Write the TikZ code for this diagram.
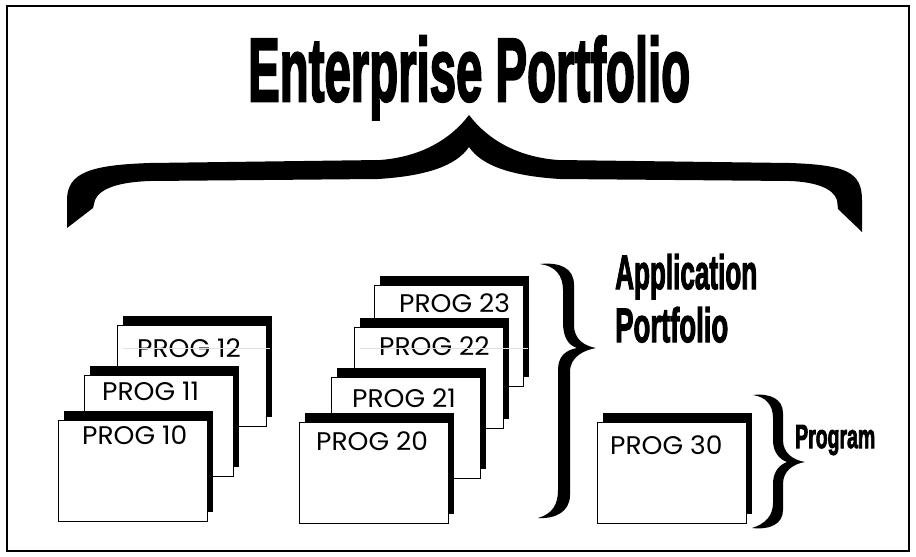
\documentclass[tikz,border=0pt]{standalone}
\usepackage{fontspec}
\setmainfont{Poppins}[FakeStretch=1.04]
\newfontfamily\hfont{Liberation Sans}[BoldFeatures={FakeBold=3}]
\usetikzlibrary{shadows}
\tikzset{
  card/.style={draw=black, fill=white, line width=0.8pt, anchor=north west,
    minimum width=149pt, minimum height=101pt, inner sep=0pt,
    general shadow={fill=black, shadow xshift=6pt, shadow yshift=9pt}},
  progtext/.style={anchor=base west, inner sep=0pt, font=\fontsize{25.5}{29}\selectfont},
  headtext/.style={anchor=base west, inner sep=0pt},
  guide/.style={draw=black!12, line width=0.5pt},
  bracefill/.style={fill=black}
}
\newcommand{\headbox}[3]{\resizebox{#1}{#2}{\hfont\bfseries #3}}
\begin{document}
\begin{tikzpicture}[x=1pt,y=-1pt]
\useasboundingbox (0,0) rectangle (916,557);
\draw[line width=2pt] (7,6) rectangle (909,551);

% title
\node[headtext] (title) at (248,101) {\headbox{442pt}{65pt}{Enterprise Portfolio}};

% big brace
\fill[bracefill] (67,228) -- (67,200)
  .. controls (67,172) and (92,165) .. (150,163)
  -- (380,160)
  .. controls (420,157) and (450,140) .. (469,115)
  .. controls (488,140) and (518,157) .. (558,160)
  -- (790,163)
  .. controls (846,165) and (862,172) .. (862,200)
  -- (862,232) -- (838,209) -- (837,200)
  .. controls (833,188) and (815,182) .. (790,181)
  -- (560,179)
  .. controls (512,176) and (482,166) .. (469,147)
  .. controls (456,166) and (426,176) .. (378,179)
  -- (150,181)
  .. controls (120,182) and (100,188) .. (95,200)
  -- (93,208) -- cycle;

% stack 1
\node[card] (c12) at (117,325) {};
\node[progtext] (t12) at (137,357) {PROG 12};
\draw[guide] (123,348) -- (270,348);
\node[card] (c11) at (84,375) {};
\node[progtext] (t11) at (102,400) {PROG 11};
\node[card] (c10) at (58,420) {};
\node[progtext] (t10) at (82,444) {PROG 10};

% stack 2
\node[card] (c23) at (374,285) {};
\node[progtext] (t23) at (399,312) {PROG 23};
\node[card] (c22) at (354,327) {};
\node[progtext] (t22) at (379,355) {PROG 22};
\draw[guide] (360,348) -- (528,348);
\node[card] (c21) at (331,377) {};
\node[progtext] (t21) at (352,407) {PROG 21};
\node[card] (c20) at (299,422) {};
\node[progtext] (t20) at (316,450) {PROG 20};

% single program
\node[card] (c30) at (597,422) {};
\node[progtext] (t30) at (610,454) {PROG 30};

% application brace
\fill[bracefill] (540,264)
  .. controls (560,262) and (574,268) .. (574,285)
  -- (574,325)
  .. controls (574,340) and (585,346) .. (596,348)
  .. controls (585,350) and (570,356) .. (570,372)
  -- (570,495)
  .. controls (570,512) and (555,519) .. (538,518)
  .. controls (552,514) and (558,505) .. (558,490)
  -- (558,370)
  .. controls (558,356) and (566,350) .. (577,348)
  .. controls (568,345) and (563,337) .. (563,322)
  -- (563,290)
  .. controls (563,275) and (555,266) .. (540,264) -- cycle;

\node[headtext] (app) at (615,289) {\headbox{142pt}{35pt}{Application}};
\node[headtext] (appb) at (615,342) {\headbox{113pt}{35pt}{Portfolio}};

% program brace
\fill[bracefill] (753,395)
  .. controls (770,393) and (783,399) .. (783,413)
  -- (783,440)
  .. controls (783,453) and (793,460) .. (805,462)
  .. controls (793,464) and (783,471) .. (783,484)
  -- (783,510)
  .. controls (783,524) and (770,530) .. (752,528)
  .. controls (765,524) and (773,516) .. (773,503)
  -- (773,484)
  .. controls (773,472) and (779,465) .. (787,462)
  .. controls (779,459) and (773,452) .. (773,440)
  -- (773,418)
  .. controls (773,405) and (766,397) .. (753,395) -- cycle;

\node[headtext] (prog) at (795,448) {\headbox{80pt}{23pt}{Program}};
\end{tikzpicture}
\end{document}
